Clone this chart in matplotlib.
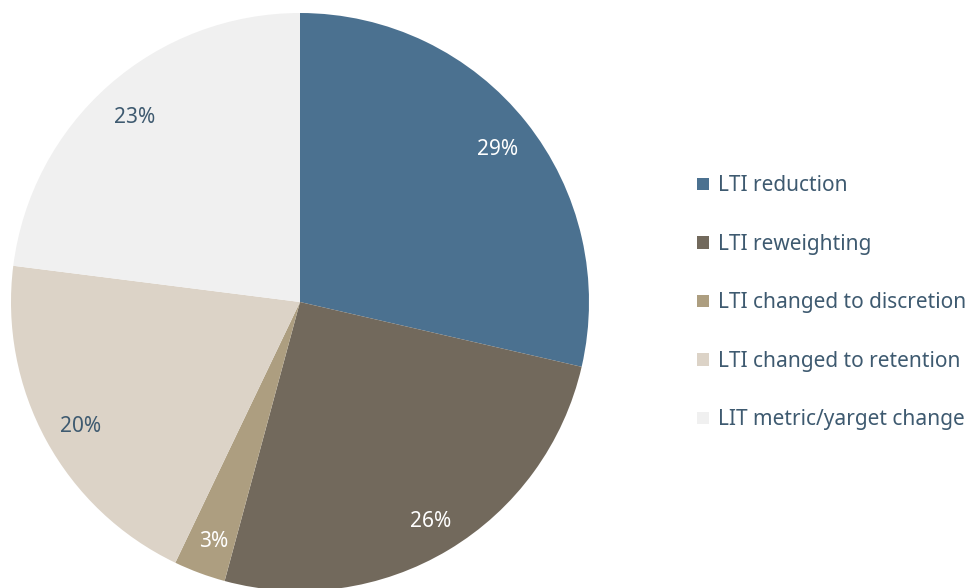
import matplotlib
matplotlib.use("Agg")
import matplotlib.pyplot as plt
from matplotlib.transforms import offset_copy

categories = ["LTI reduction", "LTI reweighting", "LTI changed to discretion",
              "LTI changed to retention", "LIT metric/yarget change"]
values = [28.6, 25.6, 2.9, 19.9, 23.0]
colors = ["#4b7190", "#72695c", "#ad9e80", "#dcd3c7", "#f0f0f0"]
label_colors = ["white", "white", "white", "#3e5a70", "#3e5a70"]

plt.rcParams['font.family'] = ['Noto Sans', 'DejaVu Sans']

W, H = 971, 588
fig = plt.figure(figsize=(W / 100, H / 100), dpi=100)
cx, cy, r = 300, 302, 289
ax = fig.add_axes([(cx - r) / W, (H - cy - r) / H, 2 * r / W, 2 * r / H])

wedges, texts, autotexts = ax.pie(
    values, colors=colors, startangle=90, counterclock=False,
    autopct=lambda p: f"{p:.0f}%", pctdistance=0.87,
    wedgeprops=dict(linewidth=0), textprops=dict(fontsize=15))
shifted = offset_copy(ax.transData, fig=fig, x=1, y=-4, units='dots')
for t, c in zip(autotexts, label_colors):
    t.set_color(c)
    t.set_transform(shifted)
ax.set_xlim(-1, 1)
ax.set_ylim(-1, 1)
ax.set_aspect('equal')

leg = fig.legend(wedges, categories, loc='upper left',
                 bbox_to_anchor=(689 / W, 1 - 167 / H), frameon=False,
                 fontsize=15, handlelength=0.58, handleheight=0.58,
                 handletextpad=0.43, labelspacing=1.8, borderaxespad=0)
for t in leg.get_texts():
    t.set_color("#3e5a70")

fig.savefig("out.png", dpi=100)
